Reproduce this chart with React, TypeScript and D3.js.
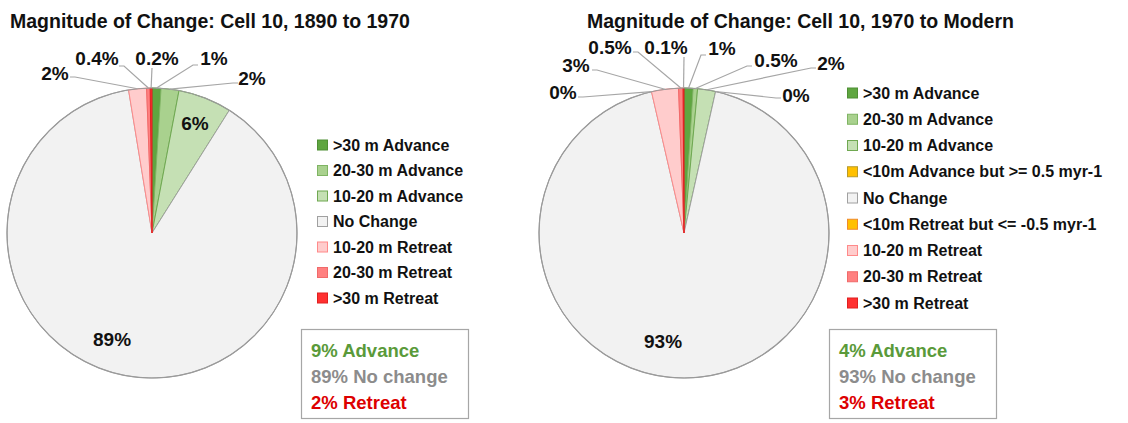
import React from "react";
import * as d3 from "d3";

// ---- data ----
const leftTitle = "Magnitude of Change: Cell 10, 1890 to 1970";
const rightTitle = "Magnitude of Change: Cell 10, 1970 to Modern";

const leftCategories = [">30 m Advance", "20-30 m Advance", "10-20 m Advance", "No Change", "10-20 m Retreat", "20-30 m Retreat", ">30 m Retreat"];
const leftValues = [1, 2, 6, 89, 2, 0.4, 0.2];

const rightCategories = [">30 m Advance", "20-30 m Advance", "10-20 m Advance", "<10m Advance but >= 0.5 myr-1", "No Change", "<10m Retreat but <= -0.5 myr-1", "10-20 m Retreat", "20-30 m Retreat", ">30 m Retreat"];
const rightValues = [1, 0.5, 2, 0, 93, 0, 3, 0.5, 0.1];

const summaryLabels = ["Advance", "No change", "Retreat"];
const leftSummary = [9, 89, 2];
const rightSummary = [4, 93, 3];

// ---- styles ----
const FONT = "'Liberation Sans', Arial, sans-serif";
const fills: Record<string, [string, string]> = {
	">30 m Advance": ["#5fa640", "#4f8f35"],
	"20-30 m Advance": ["#a9d18e", "#7fb463"],
	"10-20 m Advance": ["#c5e0b4", "#6fa851"],
	"<10m Advance but >= 0.5 myr-1": ["#ffc000", "#b89a2a"],
	"No Change": ["#f2f2f2", "#a0a0a0"],
	"<10m Retreat but <= -0.5 myr-1": ["#ffc000", "#f08a2c"],
	"10-20 m Retreat": ["#ffcccc", "#ff8a8a"],
	"20-30 m Retreat": ["#ff8080", "#f06a6a"],
	">30 m Retreat": ["#ff3030", "#e02020"],
};
const summaryColors = ["#5a9a3a", "#8c8c8c", "#dd0000"];

// label placement relative to pie centre: text centre (tx,ty), leader end (lx,ly) or none
const leftLabels = [
	{ tx: 62, ty: -175, lx: 46, ly: -168 },
	{ tx: 100, ty: -155, lx: 86, ly: -150 },
	{ tx: 43, ty: -110 },
	{ tx: -40, ty: 106 },
	{ tx: -97, ty: -160, lx: -82, ly: -156 },
	{ tx: -55, ty: -175, lx: -33, ly: -167 },
	{ tx: 5, ty: -175, lx: 0, ly: -165 },
];
const rightLabels = [
	{ tx: 38, ty: -185, lx: 22, ly: -178 },
	{ tx: 92, ty: -173, lx: 68, ly: -167 },
	{ tx: 147, ty: -170, lx: 132, ly: -165 },
	{ tx: 112, ty: -138, lx: 97, ly: -135 },
	{ tx: -21, ty: 108 },
	{ tx: -121, ty: -141, lx: -106, ly: -136 },
	{ tx: -108, ty: -168, lx: -92, ly: -163 },
	{ tx: -74, ty: -186, lx: -51, ly: -181 },
	{ tx: -18, ty: -186, lx: 0, ly: -176 },
];

function PieChart({ cx, cy, r, categories, values, labels }) {
	const pie = d3.pie<number>().sort(null).value(d => d);
	const arcs = pie(values);
	const arc = d3.arc<any>().innerRadius(0).outerRadius(r);
	return (
		<g transform={`translate(${cx},${cy})`}>
			{arcs.map((a, i) => {
				const [fill, stroke] = fills[categories[i]];
				return a.value > 0 ? <path key={i} d={arc(a)} fill={fill} stroke={stroke} strokeWidth={1} strokeLinejoin="round" /> : null;
			})}
			<circle r={r} fill="none" stroke="#9a9a9a" strokeWidth={1.2} />
			{arcs.map((a, i) => {
				const L = labels[i];
				const mid = (a.startAngle + a.endAngle) / 2;
				const sx = r * Math.sin(mid), sy = -r * Math.cos(mid);
				let line = null;
				if (L.lx !== undefined) {
					const bend = L.lx === 0 ? 0 : (L.lx > sx ? -5 : 5);
					line = <polyline points={`${sx},${sy} ${L.lx + bend},${L.ly} ${L.lx},${L.ly}`} fill="none" stroke="#a6a6a6" strokeWidth={1.2} />;
				}
				return (
					<g key={i}>
						{line}
						<text x={L.tx} y={L.ty} textAnchor="middle" dominantBaseline="central" fontFamily={FONT} fontWeight="bold" fontSize={19} fill="#111">
							{values[i]}%
						</text>
					</g>
				);
			})}
		</g>
	);
}

function Legend({ x, y0, y1, categories }) {
	const y = d3.scalePoint<string>().domain(categories).range([y0, y1]);
	return (
		<g>
			{categories.map(c => {
				const [fill, stroke] = fills[c];
				return (
					<g key={c} transform={`translate(${x},${y(c)})`}>
						<rect x={0.5} y={-5} width={10} height={10} fill={fill} stroke={stroke} strokeWidth={1} />
						<text x={16} y={0} dominantBaseline="central" fontFamily={FONT} fontWeight="bold" fontSize={16} fill="#111">{c}</text>
					</g>
				);
			})}
		</g>
	);
}

function Summary({ x, y, values }) {
	return (
		<g transform={`translate(${x},${y})`}>
			<rect x={0.5} y={0.5} width={167} height={89} fill="white" stroke="#a6a6a6" strokeWidth={1.2} />
			{values.map((v, i) => (
				<text key={i} x={10} y={21 + i * 26} dominantBaseline="central" fontFamily={FONT} fontWeight="bold" fontSize={18.5} fill={summaryColors[i]}>
					{v}% {summaryLabels[i]}
				</text>
			))}
		</g>
	);
}

export default function App() {
	const width = 1128, height = 423;
	return (
		<svg width={width} height={height} style={{ position: "absolute", left: 0, top: 0, background: "white" }}>
			<text x={10} y={21} dominantBaseline="central" fontFamily={FONT} fontWeight="bold" fontSize={19.5} fill="#111">{leftTitle}</text>
			<text x={587} y={21} dominantBaseline="central" fontFamily={FONT} fontWeight="bold" fontSize={19.5} fill="#111">{rightTitle}</text>

			<PieChart cx={152} cy={233} r={145} categories={leftCategories} values={leftValues} labels={leftLabels} />
			<PieChart cx={684} cy={233} r={145} categories={rightCategories} values={rightValues} labels={rightLabels} />

			<Legend x={317} y0={145} y1={298} categories={leftCategories} />
			<Legend x={847} y0={93} y1={303} categories={rightCategories} />

			<Summary x={301} y={329} values={leftSummary} />
			<Summary x={829} y={329} values={rightSummary} />
		</svg>
	);
}
